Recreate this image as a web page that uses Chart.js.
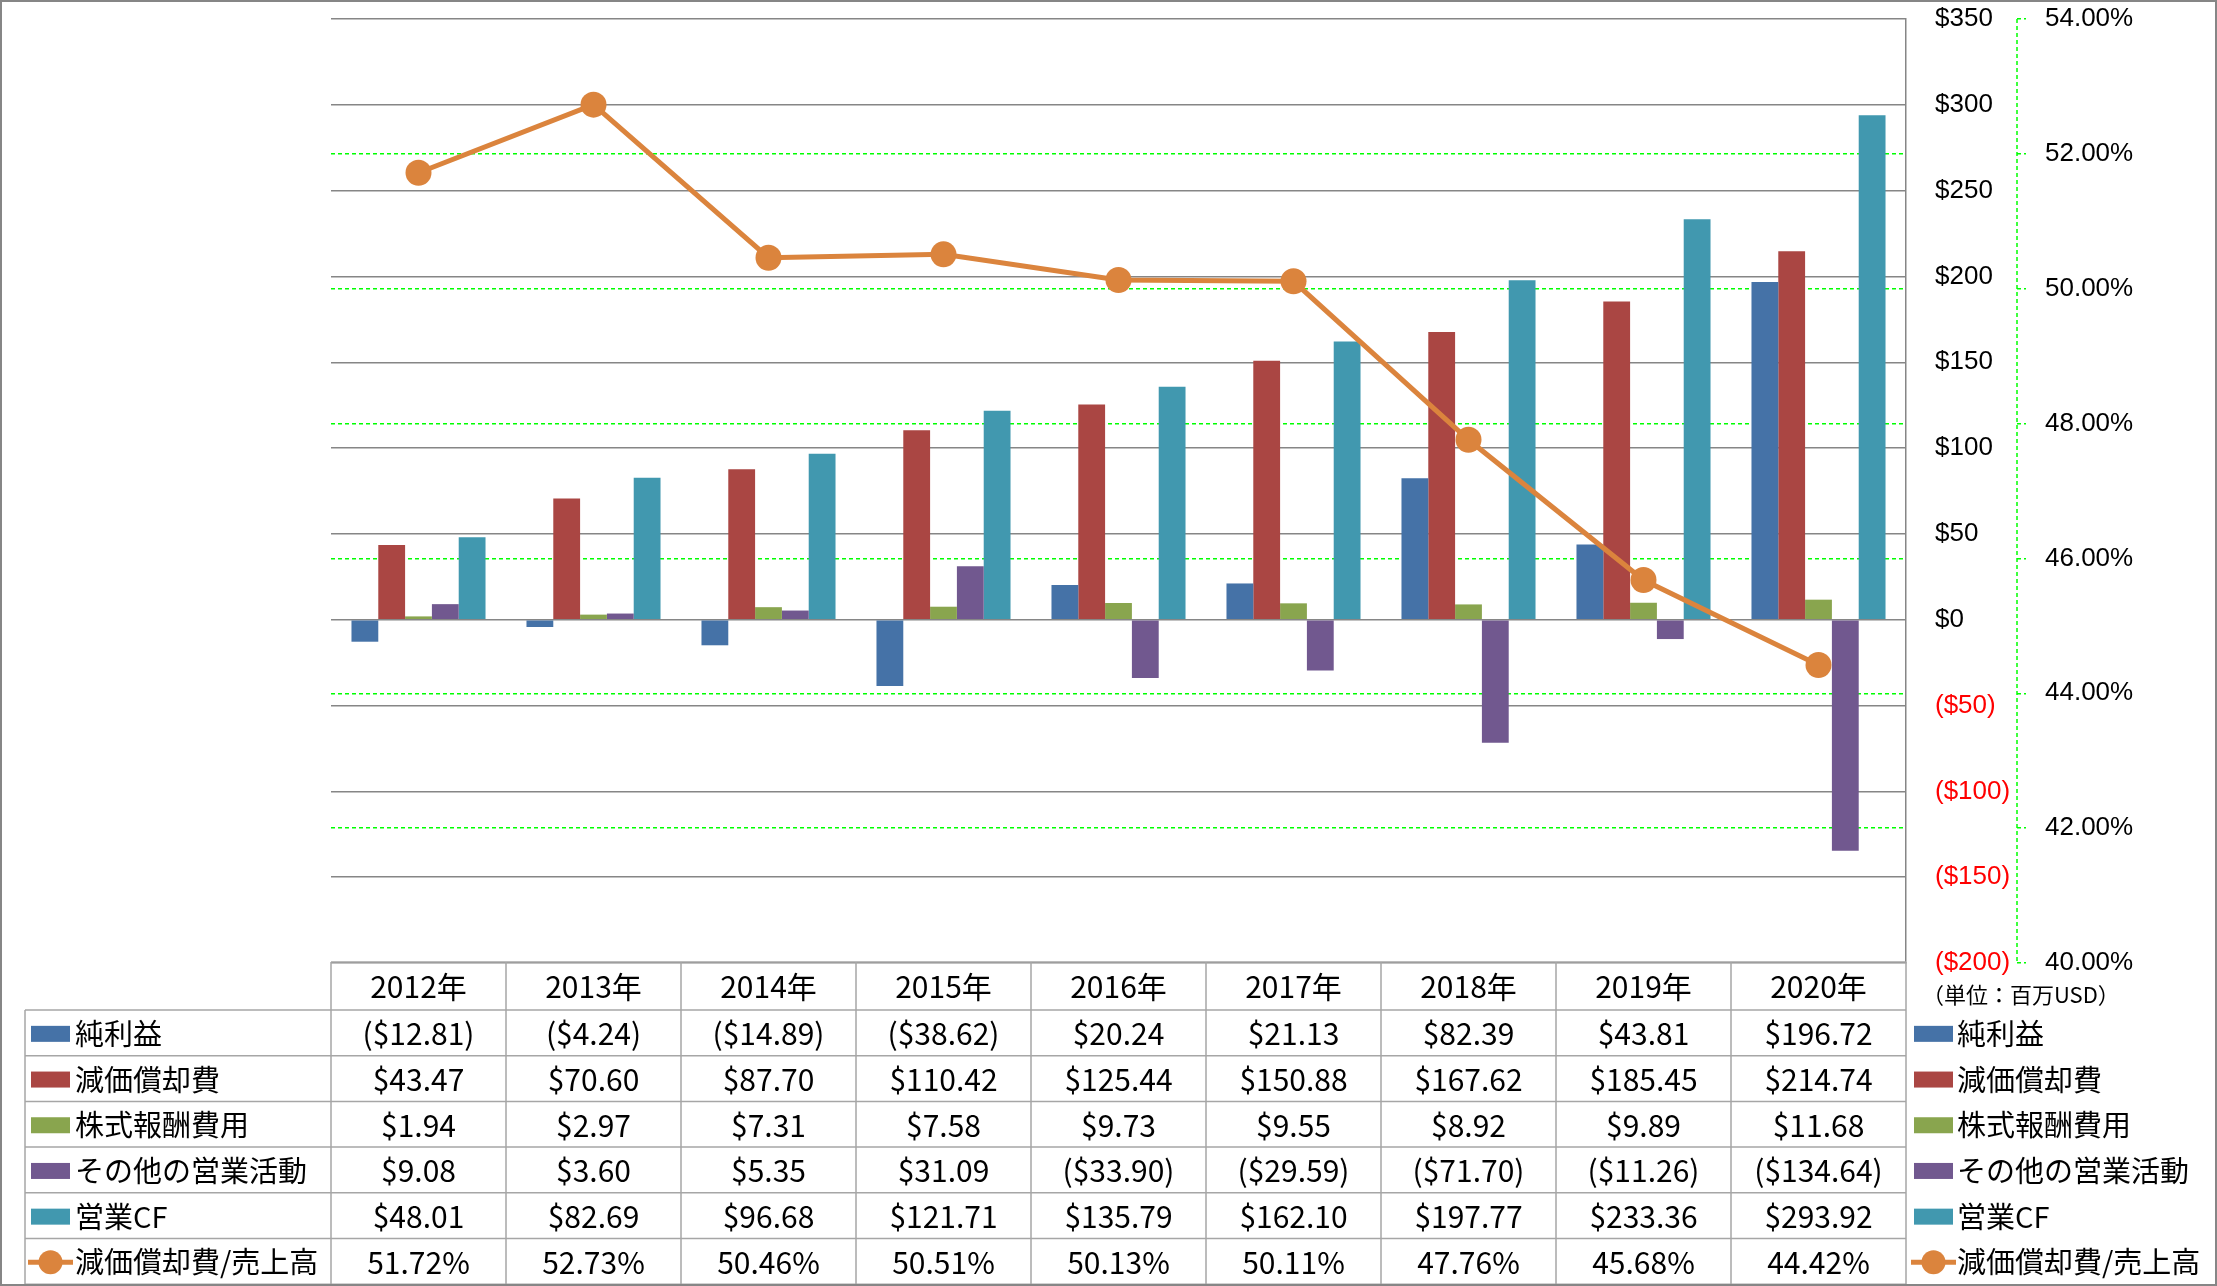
<!DOCTYPE html>
<html>
<head>
<meta charset="utf-8">
<script src="https://cdn.jsdelivr.net/npm/chart.js@4.4.1/dist/chart.umd.min.js"></script>
<style>
html, body { margin: 0; padding: 0; background: #fff; }
#wrap { width: 2217px; height: 1286px; position: relative; }
</style>
</head>
<body>
<div id="wrap"><canvas id="chart"></canvas></div>
<script>
// data
const years = ['2012年', '2013年', '2014年', '2015年', '2016年', '2017年', '2018年', '2019年', '2020年'];
const netIncome    = [-12.81, -4.24, -14.89, -38.62, 20.24, 21.13, 82.39, 43.81, 196.72];
const depreciation = [43.47, 70.60, 87.70, 110.42, 125.44, 150.88, 167.62, 185.45, 214.74];
const stockComp    = [1.94, 2.97, 7.31, 7.58, 9.73, 9.55, 8.92, 9.89, 11.68];
const otherOps     = [9.08, 3.60, 5.35, 31.09, -33.90, -29.59, -71.70, -11.26, -134.64];
const operatingCF  = [48.01, 82.69, 96.68, 121.71, 135.79, 162.10, 197.77, 233.36, 293.92];
const depRatio     = [51.72, 52.73, 50.46, 50.51, 50.13, 50.11, 47.76, 45.68, 44.42];

const usdAxis = { min: -200, max: 350, step: 50 };
const pctAxis = { min: 40, max: 54, step: 2 };
const unitNote = '（単位：百万USD）';

const LATIN = '"Liberation Sans", "Noto Sans CJK JP", sans-serif';
const NARROW = '"Liberation Sans Narrow", "Noto Sans CJK JP", sans-serif';
const CJK = '"Noto Sans CJK JP", sans-serif';

function money(v) {
  return v < 0 ? '($' + Math.abs(v).toFixed(2) + ')' : '$' + v.toFixed(2);
}
function pct(v) {
  return v.toFixed(2) + '%';
}

const tablePlugin = {
  id: 'tablePlugin',
  beforeDraw(chart) {
    const ctx = chart.ctx;
    ctx.save();
    ctx.fillStyle = '#fff';
    ctx.fillRect(0, 0, chart.width, chart.height);
    ctx.restore();
  },
  afterDraw(chart) {
    const { ctx, chartArea, scales } = chart;
    const xs = scales.x;
    const colW = (chartArea.right - chartArea.left) / years.length;
    const headTop = 962, headBot = 1010, rowH = 45.7, labelLeft = 25;
    const rows = chart.data.datasets.map(ds => ({
      label: ds.label,
      color: ds.backgroundColor,
      line: ds.type === 'line',
      values: ds.data,
      fmt: ds.type === 'line' ? pct : money
    }));
    const bottom = headBot + rowH * rows.length;

    ctx.save();
    // dashed secondary axis line
    const ax = scales.y2.left;
    ctx.strokeStyle = '#00FF00';
    ctx.lineWidth = 1.5;
    ctx.setLineDash([4, 3]);
    ctx.beginPath();
    ctx.moveTo(ax, chartArea.top);
    ctx.lineTo(ax, chartArea.bottom);
    ctx.stroke();
    ctx.setLineDash([]);

    // table grid
    ctx.strokeStyle = '#A6A6A6';
    ctx.lineWidth = 1.5;
    ctx.beginPath();
    ctx.moveTo(chartArea.left, headTop);
    ctx.lineTo(chartArea.right, headTop);
    for (let r = 0; r <= rows.length; r++) {
      const y = headBot + r * rowH;
      ctx.moveTo(labelLeft, y);
      ctx.lineTo(chartArea.right, y);
    }
    for (let i = 0; i <= years.length; i++) {
      const x = chartArea.left + i * colW;
      ctx.moveTo(x, headTop);
      ctx.lineTo(x, bottom);
    }
    ctx.moveTo(labelLeft, headBot);
    ctx.lineTo(labelLeft, bottom);
    ctx.stroke();

    // header
    ctx.fillStyle = '#000';
    ctx.textAlign = 'center';
    ctx.textBaseline = 'middle';
    ctx.font = '30px ' + NARROW;
    years.forEach((yr, i) => {
      ctx.fillText(yr, xs.getPixelForValue(i), (headTop + headBot) / 2 + 1);
    });

    // values
    rows.forEach((row, r) => {
      const cy = headBot + r * rowH + rowH / 2 + 1;
      ctx.font = '30px ' + NARROW;
      ctx.fillStyle = '#000';
      ctx.textAlign = 'center';
      row.values.forEach((v, i) => {
        ctx.fillText(row.fmt(v), xs.getPixelForValue(i), cy);
      });
      // keys, left and right
      [[31, 75], [1914, 1957]].forEach(([kx, tx]) => {
        if (row.line) {
          ctx.strokeStyle = row.color;
          ctx.lineWidth = 5;
          ctx.beginPath();
          ctx.moveTo(kx - 3, cy);
          ctx.lineTo(kx + 42, cy);
          ctx.stroke();
          ctx.fillStyle = row.color;
          ctx.beginPath();
          ctx.arc(kx + 19.5, cy, 12, 0, Math.PI * 2);
          ctx.fill();
        } else {
          ctx.fillStyle = row.color;
          ctx.fillRect(kx, cy - 8, 39, 16);
        }
        ctx.fillStyle = '#000';
        ctx.textAlign = 'left';
        ctx.font = '29px ' + CJK;
        ctx.fillText(row.label, tx, cy);
      });
    });

    // unit note
    ctx.font = '22px ' + CJK;
    ctx.textAlign = 'left';
    ctx.fillStyle = '#000';
    ctx.fillText(unitNote, 1922, 995);

    // outer frame
    ctx.strokeStyle = '#868686';
    ctx.lineWidth = 2;
    ctx.strokeRect(1, 1, chart.width - 2, chart.height - 2);
    ctx.restore();
  }
};

const barBase = { type: 'bar', yAxisID: 'y', order: 1, categoryPercentage: 0.766, barPercentage: 1.0 };

new Chart(document.getElementById('chart'), {
  data: {
    labels: years,
    datasets: [
      { ...barBase, label: '純利益', data: netIncome, backgroundColor: '#4572A7' },
      { ...barBase, label: '減価償却費', data: depreciation, backgroundColor: '#AA4643' },
      { ...barBase, label: '株式報酬費用', data: stockComp, backgroundColor: '#89A54E' },
      { ...barBase, label: 'その他の営業活動', data: otherOps, backgroundColor: '#71588F' },
      { ...barBase, label: '営業CF', data: operatingCF, backgroundColor: '#4198AF' },
      {
        type: 'line', label: '減価償却費/売上高', data: depRatio, yAxisID: 'y2', order: 0,
        borderColor: '#DB843D', backgroundColor: '#DB843D', borderWidth: 5,
        pointRadius: 13, pointBackgroundColor: '#DB843D', pointBorderWidth: 0, tension: 0
      }
    ]
  },
  options: {
    responsive: true,
    maintainAspectRatio: false,
    animation: false,
    layout: { padding: { left: 331, top: 19, right: 2, bottom: 323 } },
    plugins: { legend: { display: false }, tooltip: { enabled: false } },
    scales: {
      x: { display: false, offset: true },
      y: {
        position: 'right',
        min: usdAxis.min, max: usdAxis.max,
        afterFit: s => { s.width = 111; s.paddingTop = 0; s.paddingBottom = 0; },
        ticks: {
          stepSize: usdAxis.step, padding: 29,
          font: { family: LATIN, size: 26 },
          color: c => c.tick.value < 0 ? '#FF0000' : '#000',
          callback: v => v < 0 ? '($' + Math.abs(v) + ')' : '$' + v
        },
        grid: { color: '#868686', lineWidth: 1.5, drawTicks: false },
        border: { display: true, color: '#868686', width: 1.5 }
      },
      y2: {
        position: 'right',
        min: pctAxis.min, max: pctAxis.max,
        afterFit: s => { s.width = 198; s.paddingTop = 0; s.paddingBottom = 0; },
        ticks: {
          stepSize: pctAxis.step, padding: 19,
          font: { family: LATIN, size: 26 }, color: '#000',
          callback: v => v.toFixed(2) + '%'
        },
        grid: {
          color: c => (c.tick && (c.tick.value === pctAxis.min || c.tick.value === pctAxis.max)) ? 'rgba(0,0,0,0)' : '#00FF00',
          tickColor: '#00FF00',
          lineWidth: 1.5, drawTicks: true, tickLength: 9,
          tickBorderDash: [4, 3]
        },
        border: { display: false, dash: [4, 3] }
      }
    }
  },
  plugins: [tablePlugin]
});
</script>
</body>
</html>
